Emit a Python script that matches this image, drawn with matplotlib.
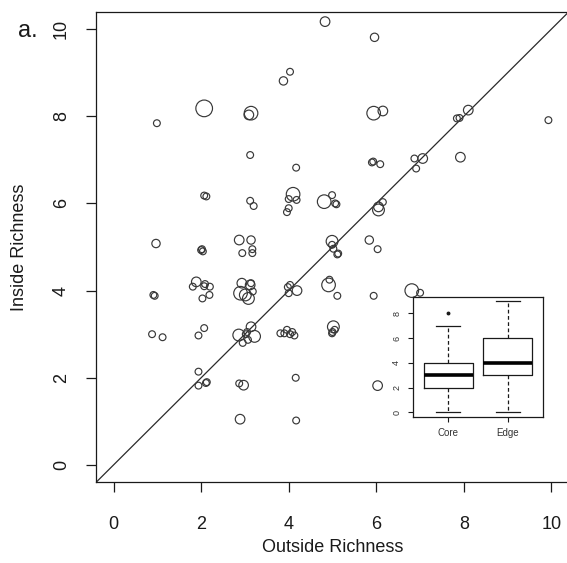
import numpy as np
import matplotlib
matplotlib.use('Agg')
import matplotlib.pyplot as plt

plt.rcParams['font.family'] = ['Liberation Sans', 'DejaVu Sans']

# Outside vs inside richness per site, with number of overlapping records (w)
outside = [4.83, 4.03, 3.88, 2.07, 3.14, 3.09, 0.99, 3.12, 4.17, 2.07, 2.12,
           3.12, 3.20, 4.10, 4.00, 4.18, 4.00, 3.96, 4.81, 4.99, 5.06, 5.09,
           5.96, 5.94, 6.15, 8.10, 7.84, 7.90, 9.93, 5.90, 5.93, 6.09, 6.87,
           7.06, 6.91, 7.92, 6.05, 6.05, 6.15, 4.99, 4.99, 5.11, 5.13, 5.02,
           5.84, 6.03,
           0.97, 2.02, 2.04, 2.00, 2.87, 3.14, 2.94, 3.17, 3.17, 0.91, 0.94,
           1.89, 1.81, 2.09, 2.07, 2.20, 2.03, 2.19, 2.93, 3.12, 2.90, 3.01,
           3.08, 3.14, 3.18, 4.03, 4.00, 4.19, 3.98, 4.91, 4.93, 5.11, 5.94,
           6.81, 7.00,
           0.88, 1.12, 1.94, 2.07, 2.86, 3.14, 3.22, 3.07, 2.95, 3.05, 3.02,
           3.81, 3.96, 4.13, 4.08, 4.03, 3.90, 5.02, 5.05, 4.99, 5.00,
           1.94, 1.94, 2.13, 2.11, 2.87, 2.97, 4.16, 6.03, 2.89, 4.17]
inside = [10.17, 9.02, 8.81, 8.18, 8.07, 8.03, 7.84, 7.11, 6.82, 6.18, 6.16,
          6.06, 5.94, 6.21, 6.10, 6.08, 5.89, 5.80, 6.04, 6.19, 6.00, 5.98,
          9.81, 8.07, 8.12, 8.14, 7.95, 7.96, 7.91, 6.94, 6.96, 6.90, 7.03,
          7.03, 6.80, 7.06, 5.85, 5.92, 6.03, 5.13, 5.05, 4.83, 4.85, 4.96,
          5.16, 4.95,
          5.08, 4.95, 4.90, 4.93, 5.16, 5.16, 4.86, 4.86, 4.95, 3.90, 3.88,
          4.20, 4.09, 4.15, 4.10, 4.09, 3.82, 3.90, 4.17, 4.13, 3.94, 3.90,
          3.82, 4.17, 3.98, 4.13, 3.94, 4.00, 4.08, 4.13, 4.25, 3.88, 3.88,
          4.00, 3.95,
          3.00, 2.93, 2.97, 3.14, 2.98, 3.17, 2.95, 2.87, 2.80, 3.05, 3.00,
          3.02, 3.10, 2.97, 3.05, 3.00, 3.02, 3.17, 3.10, 3.02, 3.05,
          2.14, 1.82, 1.90, 1.88, 1.87, 1.83, 2.00, 1.82, 1.05, 1.02]
w = [2, 1, 1.5, 6, 4, 2, 1, 1, 1, 1, 1,
     1, 1, 4, 1, 1, 1, 1, 4, 1, 1, 1,
     1.5, 4, 2, 2, 1, 1, 1, 1, 1, 1, 1,
     2, 1, 2, 3, 2, 1, 3, 1, 1, 1, 1,
     1.5, 1,
     1.5, 1, 1, 1, 2, 1.5, 1, 1, 1, 1, 1,
     2, 1, 1, 1, 1, 1, 1, 2, 2, 4, 3,
     3, 1, 1, 1, 1, 2, 1, 4, 1, 1, 1,
     4, 1,
     1, 1, 1, 1, 3, 2, 3, 1, 1, 1, 1,
     1, 1, 1, 1, 1, 1, 3, 1, 1, 1,
     1, 1, 1, 1, 1, 2, 1, 2, 2, 1]

# Inset boxplot summaries (Core vs Edge)
groups = ['Core', 'Edge']
q1 = [2, 3]
med = [3, 4]
q3 = [4, 6]
whislo = [0, 0]
whishi = [7, 9]
fliers = [[8], []]

W, H = 567, 563
fig = plt.figure(figsize=(W / 100, H / 100), dpi=100)
ax = fig.add_axes([96 / W, (H - 482.4) / H, 473 / W, 470.8 / H])

ink = '#1a1a1a'
r_px = 3.4 * np.sqrt(np.array(w))
sizes = (2 * r_px * 0.72) ** 2
ax.scatter(outside, inside, s=sizes, facecolors='none', edgecolors='#383838',
           linewidths=0.85, zorder=2)
ax.axline((0, 0), slope=1, color='#2a2a2a', lw=0.9, zorder=1)

ax.set_xlim(-0.4, 10.4)
ax.set_ylim(-0.4, 10.4)
ax.set_xticks(range(0, 11, 2))
ax.set_yticks(range(0, 11, 2))
for s in ax.spines.values():
    s.set_color(ink)
    s.set_linewidth(0.9)
ax.tick_params(axis='both', length=7, width=0.9, color=ink, labelsize=13,
               labelcolor=ink)
ax.tick_params(axis='x', pad=23.5)
ax.tick_params(axis='y', pad=18, labelrotation=90)
for lab in ax.get_xticklabels():
    lab.set_va('center')
for lab in ax.get_yticklabels():
    lab.set_ha('center')
    lab.set_va('center')

ax.set_xlabel('Outside Richness', fontsize=13, color=ink)
ax.xaxis.set_label_coords(0.5, -(547 - 482.4) / 470.8)
ax.xaxis.label.set_va('center')
ax.set_ylabel('Inside Richness', fontsize=13, color=ink)
ax.yaxis.set_label_coords(-(96 - 19) / 473, 0.5)
ax.yaxis.label.set_va('center')

fig.text(18 / W, 1 - 37 / H, 'a.', fontsize=17, ha='left', va='baseline',
         color=ink)

# inset
ins = fig.add_axes([412.7 / W, (H - 416.7) / H, 130.6 / W, 120.1 / H])
ins.set_facecolor('white')
stats = []
for i in range(len(groups)):
    stats.append(dict(label=groups[i], q1=q1[i], med=med[i], q3=q3[i],
                      whislo=whislo[i], whishi=whishi[i], fliers=fliers[i]))
ins.bxp(stats, positions=[1, 2], widths=0.82, capwidths=0.41,
        boxprops=dict(color=ink, lw=0.9),
        medianprops=dict(color='black', lw=2.6),
        whiskerprops=dict(color=ink, lw=0.9, linestyle=(0, (3, 2))),
        capprops=dict(color=ink, lw=0.9),
        flierprops=dict(marker='o', markersize=1.8, markerfacecolor=ink,
                        markeredgecolor=ink))
ins.set_xlim(0.4, 2.6)
ins.set_ylim(-0.36, 9.36)
ins.set_yticks([0, 2, 4, 6, 8])
for s in ins.spines.values():
    s.set_color(ink)
    s.set_linewidth(0.9)
ins.tick_params(axis='both', length=3.5, width=0.8, color=ink, labelcolor='#333333')
ins.tick_params(axis='x', labelsize=7, pad=8.5)
ins.tick_params(axis='y', labelsize=6.5, pad=8, labelrotation=90)
for lab in ins.get_xticklabels():
    lab.set_va('center')
for lab in ins.get_yticklabels():
    lab.set_ha('center')
    lab.set_va('center')

fig.savefig('out.png', dpi=100)
